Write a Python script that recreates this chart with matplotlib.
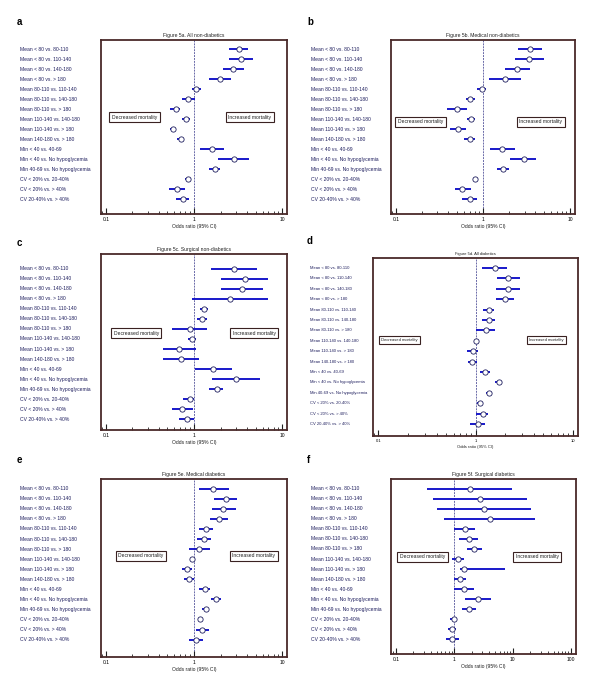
import numpy as np
import matplotlib
matplotlib.use("Agg")
import matplotlib.pyplot as plt
from matplotlib import transforms

plt.rcParams['font.family'] = ['Liberation Sans', 'DejaVu Sans']

#### data
row_labels = [
    "Mean < 80 vs. 80-110", "Mean < 80 vs. 110-140", "Mean < 80 vs. 140-180", "Mean < 80 vs. > 180",
    "Mean 80-110 vs. 110-140", "Mean 80-110 vs. 140-180", "Mean 80-110 vs. > 180",
    "Mean 110-140 vs. 140-180", "Mean 110-140 vs. > 180", "Mean 140-180 vs. > 180",
    "Min < 40 vs. 40-69", "Min < 40 vs. No hypoglycemia", "Min 40-69 vs. No hypoglycemia",
    "CV < 20% vs. 20-40%", "CV < 20% vs. > 40%", "CV 20-40% vs. > 40%",
]

titles = ["Figure 5a. All non-diabetics", "Figure 5b. Medical non-diabetics",
          "Figure 5c. Surgical non-diabetics", "Figure 5d. All diabetics",
          "Figure 5e. Medical diabetics", "Figure 5f. Surgical diabetics"]
letters = ["a", "b", "c", "d", "e", "f"]

or_a = [3.25, 3.46, 2.80, 1.98, 1.06, 0.86, 0.62, 0.81, 0.57, 0.71, 1.60, 2.83, 1.73, 0.86, 0.64, 0.75]
lo_a = [2.52, 2.52, 2.12, 1.49, 0.96, 0.74, 0.54, 0.74, 0.53, 0.64, 1.17, 1.89, 1.48, 0.80, 0.52, 0.63]
hi_a = [4.08, 4.65, 3.74, 2.61, 1.19, 1.02, 0.70, 0.90, 0.62, 0.76, 2.21, 4.16, 1.98, 0.92, 0.80, 0.88]

or_b = [3.47, 3.40, 2.48, 1.80, 0.97, 0.70, 0.50, 0.72, 0.52, 0.70, 1.66, 2.94, 1.71, 0.82, 0.58, 0.70]
lo_b = [2.55, 2.34, 1.80, 1.17, 0.86, 0.63, 0.39, 0.65, 0.42, 0.61, 1.20, 2.05, 1.43, 0.76, 0.48, 0.58]
hi_b = [4.71, 5.05, 3.47, 2.74, 1.09, 0.80, 0.66, 0.80, 0.64, 0.82, 2.30, 4.09, 2.01, 0.88, 0.72, 0.86]

or_c = [2.85, 3.81, 3.55, 2.55, 1.31, 1.23, 0.90, 0.94, 0.68, 0.71, 1.65, 3.01, 1.83, 0.89, 0.73, 0.83]
lo_c = [1.55, 2.00, 2.03, 0.95, 1.18, 1.09, 0.56, 0.86, 0.44, 0.44, 1.02, 1.60, 1.48, 0.75, 0.56, 0.68]
hi_c = [5.17, 6.96, 6.15, 6.84, 1.46, 1.41, 1.42, 1.04, 1.04, 1.15, 2.69, 5.64, 2.16, 1.00, 0.97, 1.00]

or_d = [1.58, 2.16, 2.16, 2.03, 1.37, 1.37, 1.28, 1.00, 0.94, 0.93, 1.26, 1.73, 1.38, 1.12, 1.19, 1.06]
lo_d = [1.18, 1.65, 1.64, 1.63, 1.20, 1.16, 1.01, 0.98, 0.82, 0.84, 1.12, 1.60, 1.28, 1.04, 1.02, 0.88]
hi_d = [2.12, 2.84, 2.88, 2.52, 1.55, 1.60, 1.60, 1.03, 1.06, 1.03, 1.42, 1.89, 1.49, 1.19, 1.36, 1.26]

or_e = [1.66, 2.31, 2.16, 1.91, 1.37, 1.30, 1.15, 0.95, 0.83, 0.88, 1.33, 1.80, 1.36, 1.17, 1.22, 1.04]
lo_e = [1.13, 1.70, 1.59, 1.52, 1.14, 1.08, 0.87, 0.93, 0.74, 0.77, 1.15, 1.55, 1.24, 1.10, 1.04, 0.87]
hi_e = [2.48, 3.11, 2.98, 2.44, 1.63, 1.57, 1.52, 0.97, 0.96, 1.00, 1.53, 2.05, 1.46, 1.23, 1.48, 1.28]

or_f = [1.86, 2.75, 3.27, 4.03, 1.50, 1.76, 2.20, 1.17, 1.46, 1.25, 1.46, 2.58, 1.78, 0.99, 0.92, 0.92]
lo_f = [0.34, 0.44, 0.50, 0.67, 1.00, 1.19, 1.63, 0.92, 1.23, 1.00, 1.00, 1.52, 1.37, 0.86, 0.77, 0.72]
hi_f = [9.75, 17.4, 20.9, 24.5, 2.23, 2.58, 3.02, 1.46, 7.39, 1.58, 2.14, 4.25, 2.32, 1.10, 1.08, 1.22]

odds = [or_a, or_b, or_c, or_d, or_e, or_f]
lows = [lo_a, lo_b, lo_c, lo_d, lo_e, lo_f]
highs = [hi_a, hi_b, hi_c, hi_d, hi_e, hi_f]
x_ticks = [[0.1, 1, 10]] * 5 + [[0.1, 1, 10, 100]]
x_ticklabels = [["0.1", "1", "10"]] * 5 + [["0.1", "1", "10", "100"]]

#### layout (pixels in a 600 x 685 figure)
W, H = 600, 685
# left, right, top, bottom of each plot frame
boxes = [(101, 287, 40, 214), (391, 575, 40, 214),
         (101, 287, 254, 430), (373, 578, 258, 436),
         (101, 287, 479, 657), (391, 576, 479, 654)]
ypads = [(0.93, 1.46), (0.93, 1.46), (1.47, 1.07), (0.96, 1.16), (0.97, 1.73), (0.97, 1.46)]
label_x = [20, 311, 20, 310, 20, 311]
letter_pos = [(17, 22), (307, 22), (17, 243), (307, 241), (17, 460), (307, 460)]
dec_pos = [(0.18, 0.557), (0.16, 0.53), (0.19, 0.55), (0.13, 0.54), (0.215, 0.57), (0.17, 0.555)]
inc_pos = [(0.80, 0.557), (0.815, 0.53), (0.825, 0.55), (0.845, 0.54), (0.82, 0.57), (0.79, 0.555)]
fs = [3.6, 3.6, 3.6, 3.0, 3.6, 3.6]

navy = "#1e1e5e"
frame = "#4a2a2a"
line_blue = "#1010c8"

fig = plt.figure(figsize=(W / 100, H / 100), dpi=100)

for k in range(6):
    l, r, t, b = boxes[k]
    ax = fig.add_axes([l / W, 1 - b / H, (r - l) / W, (b - t) / H])
    ax.set_xscale("log")
    lo_t, hi_t = np.log10(x_ticks[k][0]), np.log10(x_ticks[k][-1])
    pad = 0.028 * (hi_t - lo_t)
    ax.set_xlim(10 ** (lo_t - pad), 10 ** (hi_t + pad))
    n = len(row_labels)
    ax.set_ylim(n - 1 + ypads[k][1], -ypads[k][0])

    y = np.arange(n)
    ax.axvline(1, color="#6a6aa8", lw=0.7, ls=(0, (2, 1)), zorder=1)
    ax.hlines(y, lows[k], highs[k], color=line_blue, lw=1.35, zorder=2)
    ax.plot(odds[k], y, "o", ms=3.8, mfc="white", mec=navy, mew=0.6, zorder=3)

    for sp in ax.spines.values():
        sp.set_color(frame)
        sp.set_linewidth(1.3)
    ax.set_yticks([])
    ax.set_xticks(x_ticks[k])
    ax.set_xticklabels(x_ticklabels[k])
    ax.tick_params(axis="x", which="major", direction="in", length=4, width=0.8,
                   color="#202020", labelsize=fs[k], pad=2)
    ax.tick_params(axis="x", which="minor", direction="in", length=2.2, width=0.6,
                   color="#202020")
    ax.set_xlabel("Odds ratio (95% CI)", fontsize=fs[k], labelpad=1.5, color="#202020")
    ax.set_title(titles[k], fontsize=fs[k], pad=2, color="#202020")

    trans = transforms.blended_transform_factory(fig.transFigure, ax.transData)
    for i, lab in enumerate(row_labels):
        ax.text(label_x[k] / W, i, lab, transform=trans, fontsize=fs[k],
                color=navy, ha="left", va="center", clip_on=False)

    bbox = dict(boxstyle="square,pad=0.5", fc="white", ec="#3a2222", lw=0.8)
    ax.text(dec_pos[k][0], dec_pos[k][1], "Decreased mortality", transform=ax.transAxes,
            fontsize=fs[k], ha="center", va="center", color="#202020", bbox=bbox)
    ax.text(inc_pos[k][0], inc_pos[k][1], "Increased mortality", transform=ax.transAxes,
            fontsize=fs[k], ha="center", va="center", color="#202020", bbox=bbox)

    fig.text(letter_pos[k][0] / W, 1 - letter_pos[k][1] / H, letters[k],
             fontsize=7, fontweight="bold", ha="left", va="center")

fig.savefig("out.png", dpi=100)
